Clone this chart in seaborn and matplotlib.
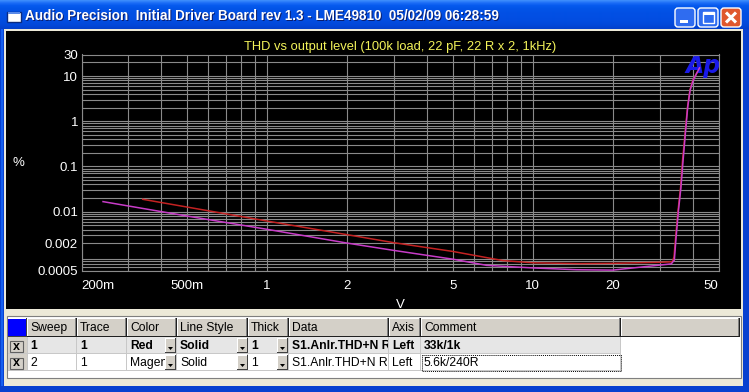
import numpy as np
import pandas as pd
import matplotlib
matplotlib.use("Agg")
import matplotlib.pyplot as plt
import seaborn as sns
from matplotlib.patches import Rectangle, FancyBboxPatch, Polygon
from matplotlib.ticker import FixedLocator, NullFormatter, LogLocator

# ---------------- data ----------------
red_level = [0.34, 1, 2, 3, 5, 7.7, 10, 15, 20, 30, 33.5, 34.0, 34.5, 35.2, 36.0, 36.6, 37.5, 38.2, 39.0, 40.0, 41.5]
red_thd = [0.0188, 0.0062, 0.0031, 0.00206, 0.00132, 0.00083, 0.00074, 0.00071, 0.00072, 0.00076, 0.00078,
           0.0010, 0.0028, 0.0105, 0.035, 0.135, 0.62, 2.0, 4.8, 8.0, 12.0]
mag_level = [0.241, 0.5, 1, 2, 3, 5, 6.7, 10, 14.6, 20, 25.9, 33.2, 34.1, 34.6, 35.3, 36.1, 36.8, 37.6, 38.3, 39.1, 40.2, 42.4]
mag_thd = [0.0167, 0.0080, 0.00407, 0.00202, 0.00139, 0.00089, 0.00065, 0.00057, 0.00052, 0.00051, 0.00060, 0.00070,
           0.00085, 0.0026, 0.0100, 0.034, 0.14, 0.62, 2.1, 4.9, 8.2, 15.2]
series_names = ["33k/1k", "5.6k/240R"]
series_colors = ["#c42222", "#c83cc8"]

x_ticks = [0.2, 0.5, 1, 2, 5, 10, 20, 50]
x_tick_labels = ["200m", "500m", "1", "2", "5", "10", "20", "50"]
y_ticks = [0.0005, 0.002, 0.01, 0.1, 1, 10, 30]
y_tick_labels = ["0.0005", "0.002", "0.01", "0.1", "1", "10", "30"]

window_title = "Audio Precision  Initial Driver Board rev 1.3 - LME49810  05/02/09 06:28:59"
chart_title = "THD vs output level (100k load, 22 pF, 22 R x 2, 1kHz)"

table_header = ["Sweep", "Trace", "Color", "Line Style", "Thick", "Data", "Axis", "Comment"]
table_rows = [
    ["1", "1", "Red", "Solid", "1", "S1.Anlr.THD+N R", "Left", "33k/1k"],
    ["2", "1", "Magenta", "Solid", "1", "S1.Anlr.THD+N R", "Left", "5.6k/240R"],
]

df = pd.concat([
    pd.DataFrame({"V": red_level, "THD": red_thd, "Comment": series_names[0]}),
    pd.DataFrame({"V": mag_level, "THD": mag_thd, "Comment": series_names[1]}),
], ignore_index=True)

# ---------------- figure ----------------
W, H = 749, 392
plt.rcParams["font.family"] = ["Liberation Sans", "DejaVu Sans"]
fig = plt.figure(figsize=(W / 100, H / 100), dpi=100, facecolor="#ece9d8")
bg = fig.add_axes([0, 0, 1, 1])
bg.set_xlim(0, W)
bg.set_ylim(H, 0)
bg.axis("off")
renderer = fig.canvas.get_renderer()


def rect(x0, y0, x1, y1, fc, ec="none", lw=0, z=1, **kw):
    p = Rectangle((x0, y0), x1 - x0, y1 - y0, facecolor=fc, edgecolor=ec, linewidth=lw, zorder=z, **kw)
    bg.add_patch(p)
    return p


def fit(t, width):
    bb = t.get_window_extent(renderer=renderer)
    t.set_fontsize(t.get_fontsize() * width / bb.width)


# window frame
rect(0, 0, W, H, "#0841d0")
rect(1, 29, 3, 386, "#1660f0")
grad = np.array([[0x3c, 0x8c, 0xfc], [0x1a, 0x6c, 0xf6], [0x06, 0x5a, 0xee], [0x03, 0x55, 0xe8],
                 [0x02, 0x52, 0xe6], [0x02, 0x50, 0xe4], [0x02, 0x4f, 0xe4], [0x02, 0x4e, 0xe2],
                 [0x02, 0x4c, 0xe0], [0x02, 0x4a, 0xdc], [0x02, 0x46, 0xd6], [0x03, 0x40, 0xcc]]) / 255.0
gy = np.linspace(0, 1, 29)
gimg = np.stack([np.interp(gy, np.linspace(0, 1, len(grad)), grad[:, c]) for c in range(3)], axis=-1)
bg.imshow(gimg[:, None, :], extent=(0, W, 29, 0), aspect="auto", zorder=1, interpolation="bilinear")
bg.set_xlim(0, W)
bg.set_ylim(H, 0)

rect(4, 29, 743, 386, "#ece9d8", z=2)
rect(6, 31, 741, 309, "#000000", z=3)

# title bar icon + text
rect(7, 12, 21, 22, "white", ec="#0a2a80", lw=1.0, z=4)
rect(8, 12, 20, 14, "#5a8ae8", z=5)
sh = bg.text(26, 17, window_title, color="#0a1e6e", fontweight="bold", fontsize=10, ha="left", va="center", zorder=4)
tt = bg.text(25, 16, window_title, color="white", fontweight="bold", fontsize=10, ha="left", va="center", zorder=5)
fit(tt, 476)
sh.set_fontsize(tt.get_fontsize())

# title bar buttons
for x0, fc in [(675, "#2f6cf0"), (698, "#2f6cf0"), (721, "#e0572e")]:
    bg.add_patch(FancyBboxPatch((x0, 8), 20, 19, boxstyle="round,pad=0,rounding_size=3",
                                facecolor=fc, edgecolor="white", linewidth=1.0, zorder=4))
rect(680, 20, 688, 23, "white", z=5)
rect(703, 12, 714, 23, "none", ec="white", lw=1.0, z=5)
rect(703, 12, 714, 14.5, "white", z=5)
bg.plot([726, 736], [12.5, 22.5], color="white", lw=2.2, zorder=5, solid_capstyle="butt")
bg.plot([726, 736], [22.5, 12.5], color="white", lw=2.2, zorder=5, solid_capstyle="butt")

# ---------------- plot ----------------
L, R, T, B = 81.5, 718.5, 54.5, 270.5
ax = fig.add_axes([L / W, 1 - B / H, (R - L) / W, (B - T) / H])
ax.set_facecolor("none")
sns.lineplot(data=df, x="V", y="THD", hue="Comment", hue_order=series_names,
             palette=dict(zip(series_names, series_colors)), estimator=None, sort=False,
             linewidth=1.1, legend=False, ax=ax, zorder=3)
ax.set_xscale("log")
ax.set_yscale("log")
ax.set_xlim(0.2, 50)
ax.set_ylim(0.0005, 30)
ax.xaxis.set_major_locator(FixedLocator(x_ticks))
ax.set_xticklabels(x_tick_labels)
ax.yaxis.set_major_locator(FixedLocator(y_ticks))
ax.set_yticklabels(y_tick_labels)
ax.xaxis.set_minor_locator(LogLocator(base=10, subs=np.arange(2, 10)))
ax.yaxis.set_minor_locator(LogLocator(base=10, subs=np.arange(2, 10)))
ax.xaxis.set_minor_formatter(NullFormatter())
ax.yaxis.set_minor_formatter(NullFormatter())
gridc = "#8a8a8a"
ax.grid(True, which="both", color=gridc, linewidth=0.8)
ax.set_axisbelow(True)
for s in ax.spines.values():
    s.set_color(gridc)
    s.set_linewidth(0.8)
ax.tick_params(which="both", length=0, colors="white", labelsize=9.5)
ax.tick_params(axis="x", pad=7)
ax.tick_params(axis="y", pad=2.5)
xl = ax.get_xticklabels()
xl[0].set_horizontalalignment("left")
xl[-1].set_horizontalalignment("right")
ax.set_xlabel("")
ax.set_ylabel("")

bg.text(18, 163, "%", color="white", fontsize=9.5, ha="center", va="center", zorder=4)
bg.text(400, 305, "V", color="white", fontsize=9.5, ha="center", va="center", zorder=4)
ct = bg.text(400, 47, chart_title, color="#f4f45a", fontsize=9, ha="center", va="center", zorder=4)
fit(ct, 312)
ax.text(703, 66, "Ap", transform=bg.transData, color="#1a1ae8", fontsize=17, fontweight="bold",
        style="italic", ha="center", va="center", zorder=2, clip_on=False, family="DejaVu Sans")

# ---------------- table ----------------
rect(7, 316, 741, 378, "white", ec="#7f7f7f", lw=0.8, z=2)
cols = [(8, 27), (27, 77), (77, 127), (127, 177), (177, 248), (248, 289), (289, 389), (389, 421), (421, 621), (621, 740)]
hy0, hy1 = 318, 337
for i, (x0, x1) in enumerate(cols):
    if i == 0:
        rect(x0, hy0, x1, hy1, "#0000ff", z=4)
        rect(x0, hy0, x1, hy0 + 1, "#ffffff", z=5)
        rect(x1 - 1, hy0, x1, hy1, "#404040", z=5)
        rect(x0, hy1 - 1, x1, hy1, "#404040", z=5)
        continue
    rect(x0, hy0, x1, hy1, "#d4d0c8", z=4)
    rect(x0, hy0, x1, hy0 + 1, "#ffffff", z=5)
    rect(x0, hy0, x0 + 1, hy1, "#ffffff", z=5)
    rect(x1 - 2, hy0, x1 - 1, hy1, "#808080", z=5)
    rect(x1 - 1, hy0, x1, hy1, "#202020", z=5)
    rect(x0, hy1 - 1, x1, hy1, "#202020", z=5)
    if i - 1 < len(table_header):
        bg.text(x0 + 3, (hy0 + hy1) / 2 + 0.5, table_header[i - 1], fontsize=8.7, color="black",
                ha="left", va="center", zorder=6)

row_y = [(337, 354), (354, 371)]
row_bg = ["#e6e6e6", "#ffffff"]
buttons = {3: 165, 4: 237, 5: 277}
for r, ((y0, y1), vals) in enumerate(zip(row_y, table_rows)):
    rect(8, y0, 621, y1, row_bg[r], z=4)
    rect(8, y0, 27, y1, "#d4d0c8", z=4)
    rect(8, y1 - 1, 621, y1, "#c8c8c8", z=5)
    # checkbox
    rect(10, y0 + 4, 23, y1 - 2, "#d4d0c8", ec="#606060", lw=0.8, z=5)
    bg.text(16.5, (y0 + y1) / 2 + 1, "x", fontsize=9, fontweight="bold", ha="center", va="center", zorder=6)
    for c in range(1, 9):
        x0, x1 = cols[c]
        rect(x1 - 1, y0, x1, y1, "#c8c8c8", z=5)
        t = bg.text(x0 + 3, (y0 + y1) / 2 + 0.5, vals[c - 1], fontsize=8.7, color="black",
                    fontweight="bold" if r == 0 else "normal", ha="left", va="center", zorder=6)
        clip = Rectangle((x0, y0), (buttons.get(c, x1 - 1) - x0), y1 - y0, transform=bg.transData)
        t.set_clip_on(True)
        t.set_clip_path(clip)
        if c in buttons:
            bx = buttons[c]
            rect(bx, y0 + 1, bx + 11, y1 - 1, "#d4d0c8", z=7)
            rect(bx, y0 + 1, bx + 11, y0 + 2, "#ffffff", z=8)
            rect(bx, y0 + 1, bx + 1, y1 - 1, "#ffffff", z=8)
            rect(bx + 10, y0 + 1, bx + 11, y1 - 1, "#404040", z=8)
            rect(bx, y1 - 2, bx + 11, y1 - 1, "#404040", z=8)
            bg.add_patch(Polygon([[bx + 3, y1 - 7], [bx + 8, y1 - 7], [bx + 5.5, y1 - 4]], closed=True,
                                 facecolor="black", edgecolor="none", zorder=9))
    rect(cols[1][0], y0, cols[1][0] + 1, y1, "#c8c8c8", z=5)

# focus rectangle on the comment of row 2
rect(421.5, 354.5, 620.5, 370.5, "none", ec="black", lw=0.7, z=9, linestyle=(0, (1, 1)))

fig.savefig("out.png", dpi=100, facecolor=fig.get_facecolor())
